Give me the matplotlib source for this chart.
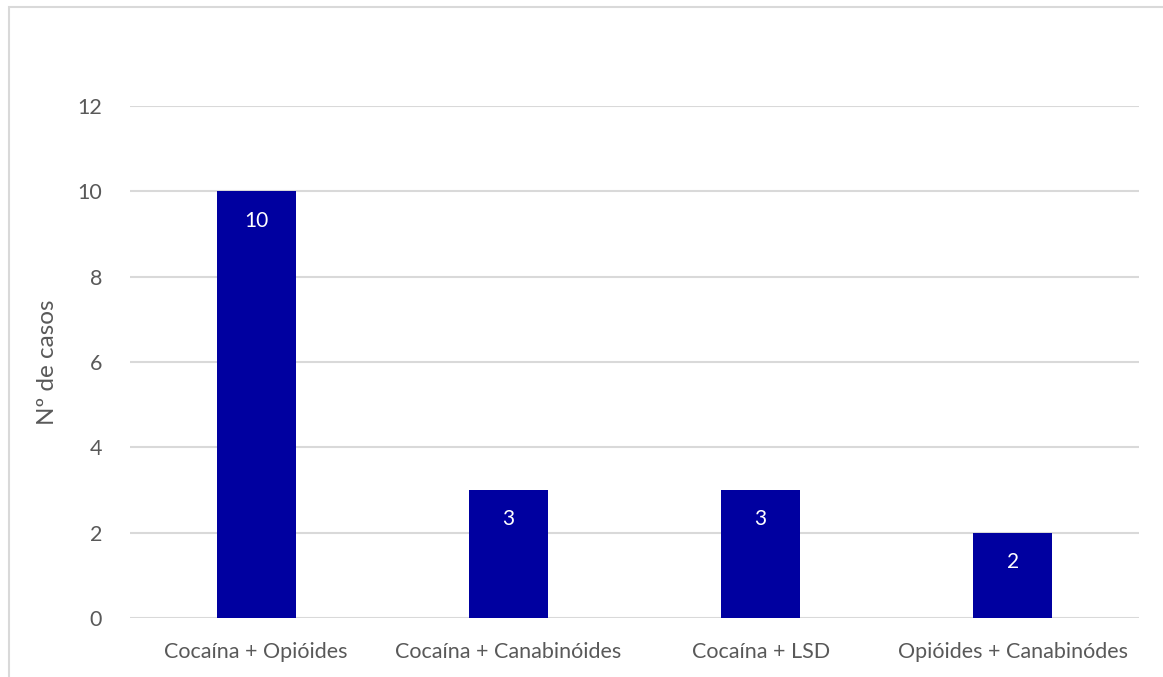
import matplotlib
matplotlib.use("Agg")
import matplotlib.pyplot as plt
from matplotlib.patches import Rectangle
import numpy as np

# Combinações de substâncias e número de casos
categories = ["Cocaína + Opióides", "Cocaína + Canabinóides",
              "Cocaína + LSD", "Opióides + Canabinódes"]
cases = [10, 3, 3, 2]
yticks = [0, 2, 4, 6, 8, 10, 12]

BAR = "#0000A0"
GRID = "#D9D9D9"
TXT = "#595959"

plt.rcParams["font.family"] = ["Lato", "DejaVu Sans"]

fig = plt.figure(figsize=(11.63, 6.77), dpi=100)
W, H = 1163, 677
ax = fig.add_axes([130 / W, 1 - 618 / H, (1139 - 130) / W, (618 - 106) / H])

x = np.arange(len(categories))
ax.bar(x, cases, width=0.313, color=BAR, zorder=3)
for xi, v in zip(x, cases):
    ax.annotate(str(v), (xi, v), xytext=(0, -21), textcoords="offset points",
                ha="center", va="center", color="white", fontsize=15, zorder=4)

ax.set_xlim(-0.5, len(categories) - 0.5)
ax.set_ylim(0, 12)
ax.set_yticks(yticks)
ax.set_xticks(x)
ax.set_xticklabels(categories)
ax.tick_params(axis="both", length=0, labelsize=15.5, labelcolor=TXT)
ax.tick_params(axis="y", pad=20)
ax.tick_params(axis="x", pad=17)
ax.grid(axis="y", color=GRID, linewidth=1.5, zorder=0)
for s in ax.spines.values():
    s.set_visible(False)
ax.set_ylabel("Nº de casos", fontsize=17.5, color=TXT, labelpad=14)

# moldura do gráfico
fig.patches.append(Rectangle((9 / W, -0.1), 1.2, 1 - 7 / H + 0.1,
                             transform=fig.transFigure, fill=False,
                             edgecolor="#D9D9D9", linewidth=1.5))

fig.savefig("out.png", dpi=100)
